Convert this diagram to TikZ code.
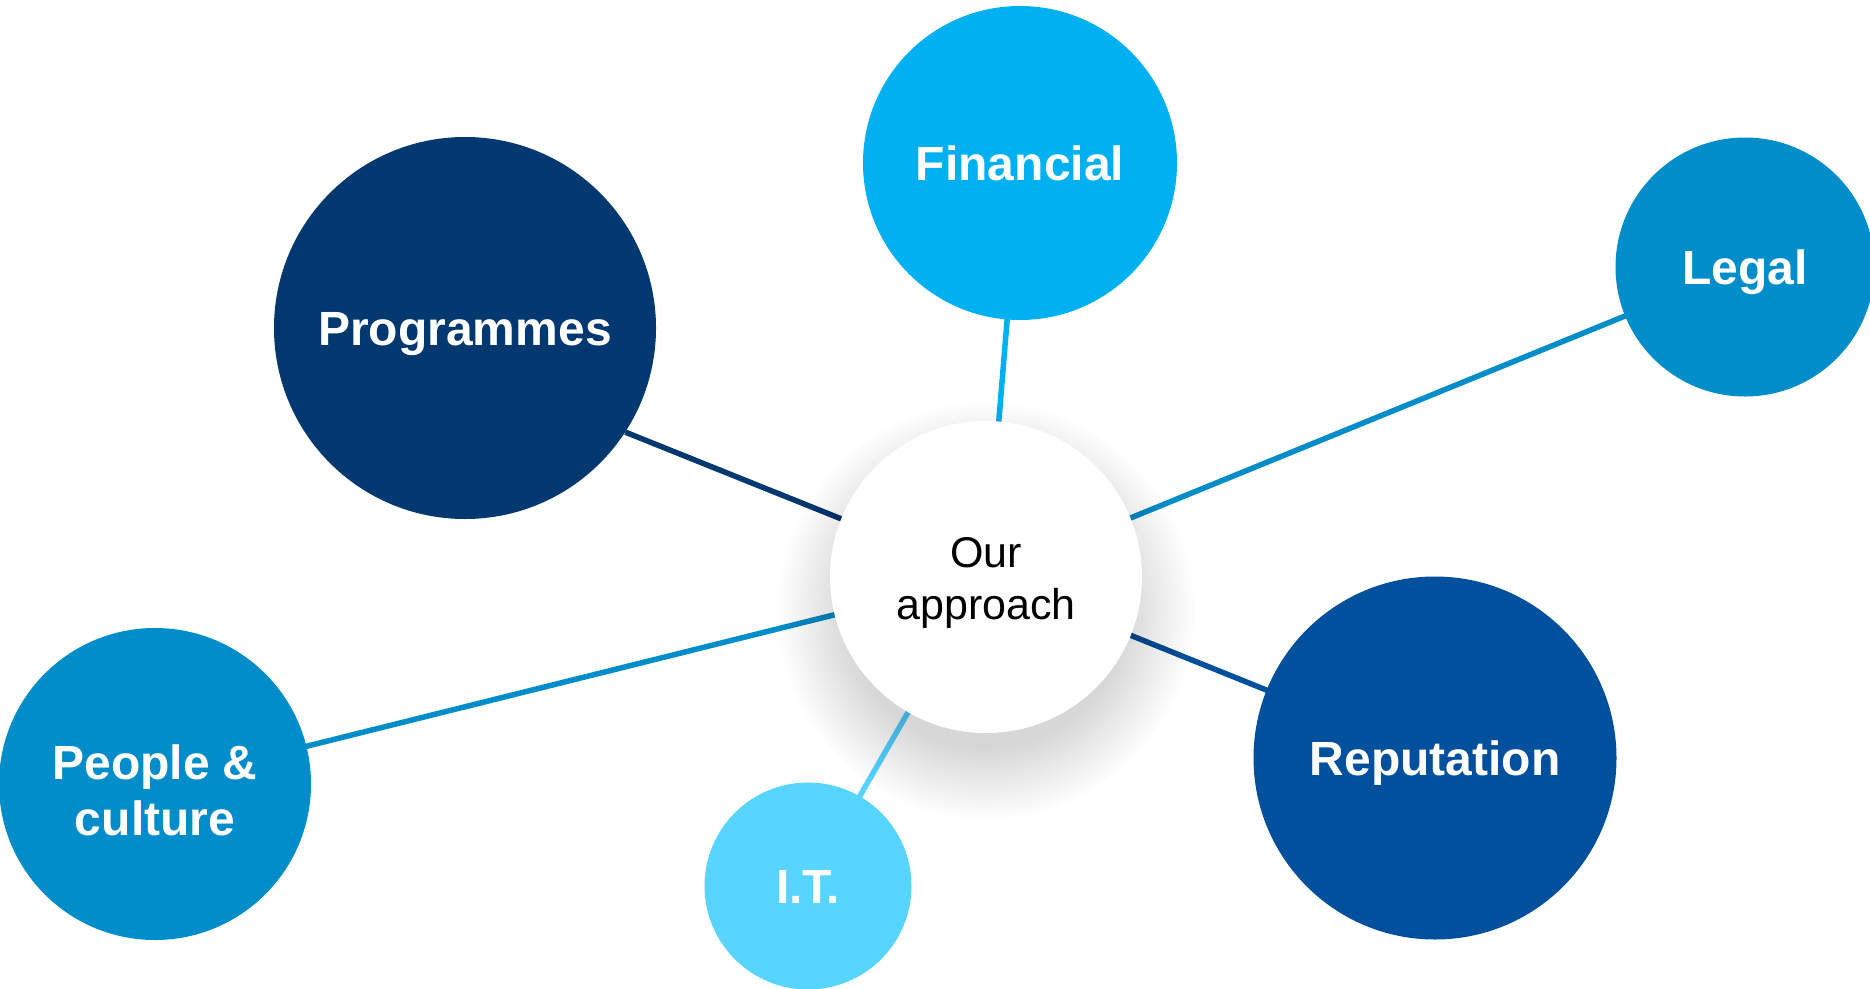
\documentclass[tikz,border=0pt]{standalone}
\usepackage{fontspec}
\setmainfont{Liberation Sans}
\definecolor{cFin}{HTML}{00B0F0}
\definecolor{cLeg}{HTML}{008DC9}
\definecolor{cProg}{HTML}{00386F}
\definecolor{cRep}{HTML}{00509E}
\definecolor{cIT}{HTML}{57D4FF}
\pgfdeclarelayer{lines}
\pgfdeclarelayer{shade}
\pgfsetlayers{lines,shade,main}
\begin{document}
\begin{tikzpicture}[x=1pt,y=-1pt,
  bub/.style={circle, inner sep=0pt, draw=none},
  lab/.style={text=white, inner sep=0pt, align=center,
    font=\fontsize{48}{56}\selectfont\bfseries},
  lab1/.style={lab, text height=34.5pt, text depth=0pt},
  conn/.style={line width=5.5pt}]
\useasboundingbox (0,0) rectangle (1870,988);
\clip (0,0) rectangle (1870,988);

% circles
\node[bub, fill=cProg, minimum size=382pt] (prog) at (465,328) {};
\node[bub, fill=cFin,  minimum size=314pt] (fin)  at (1020,163) {};
\node[bub, fill=cLeg,  minimum size=259pt] (leg)  at (1745,267) {};
\node[bub, fill=cLeg,  minimum size=312pt] (ppl)  at (155,784) {};
\node[bub, fill=cIT,   minimum size=207pt] (it)   at (808,886) {};
\node[bub, fill=cRep,  minimum size=363pt] (rep)  at (1435,758) {};
\node[bub, fill=white, minimum size=312pt] (ctr)  at (986,577) {};

% labels
\node[lab1] (progT) at (prog.center) {Programmes};
\node[lab1] (finT)  at (fin.center)  {Financial};
\node[lab1] (legT)  at (leg.center)  {Legal};
\node[lab1] (itT)   at (it.center)   {I.T.};
\node[lab1] (repT)  at (rep.center)  {Reputation};
\node[lab, yshift=-6pt] (pplT) at (ppl.center) {People \&\\culture};
\node[inner sep=0pt, align=center, yshift=-6pt,
  font=\fontsize{43}{52}\selectfont] (ctrT) at (ctr.center) {Our\\approach};

% connectors
\begin{pgfonlayer}{lines}
\draw[conn, cProg] (prog.-33) -- (ctr.center);
\draw[conn, cFin]  (ctr.center) -- (fin.center);
\draw[conn, cLeg]  (ctr.center) -- (leg.center);
\draw[conn, cLeg]  (ctr.center) -- (ppl.center);
\draw[conn, cIT]   (ctr.center) -- (it.center);
\draw[conn, cRep]  (ctr.center) -- (rep.center);
\end{pgfonlayer}

% soft shadow of the centre circle
\begin{pgfonlayer}{shade}
\foreach \i in {0,...,19}{
  \fill[black, fill opacity=0.0078] ([yshift=-34pt]ctr.center) circle[radius={208-\i*3.6}];
}
\end{pgfonlayer}
\end{tikzpicture}
\end{document}
